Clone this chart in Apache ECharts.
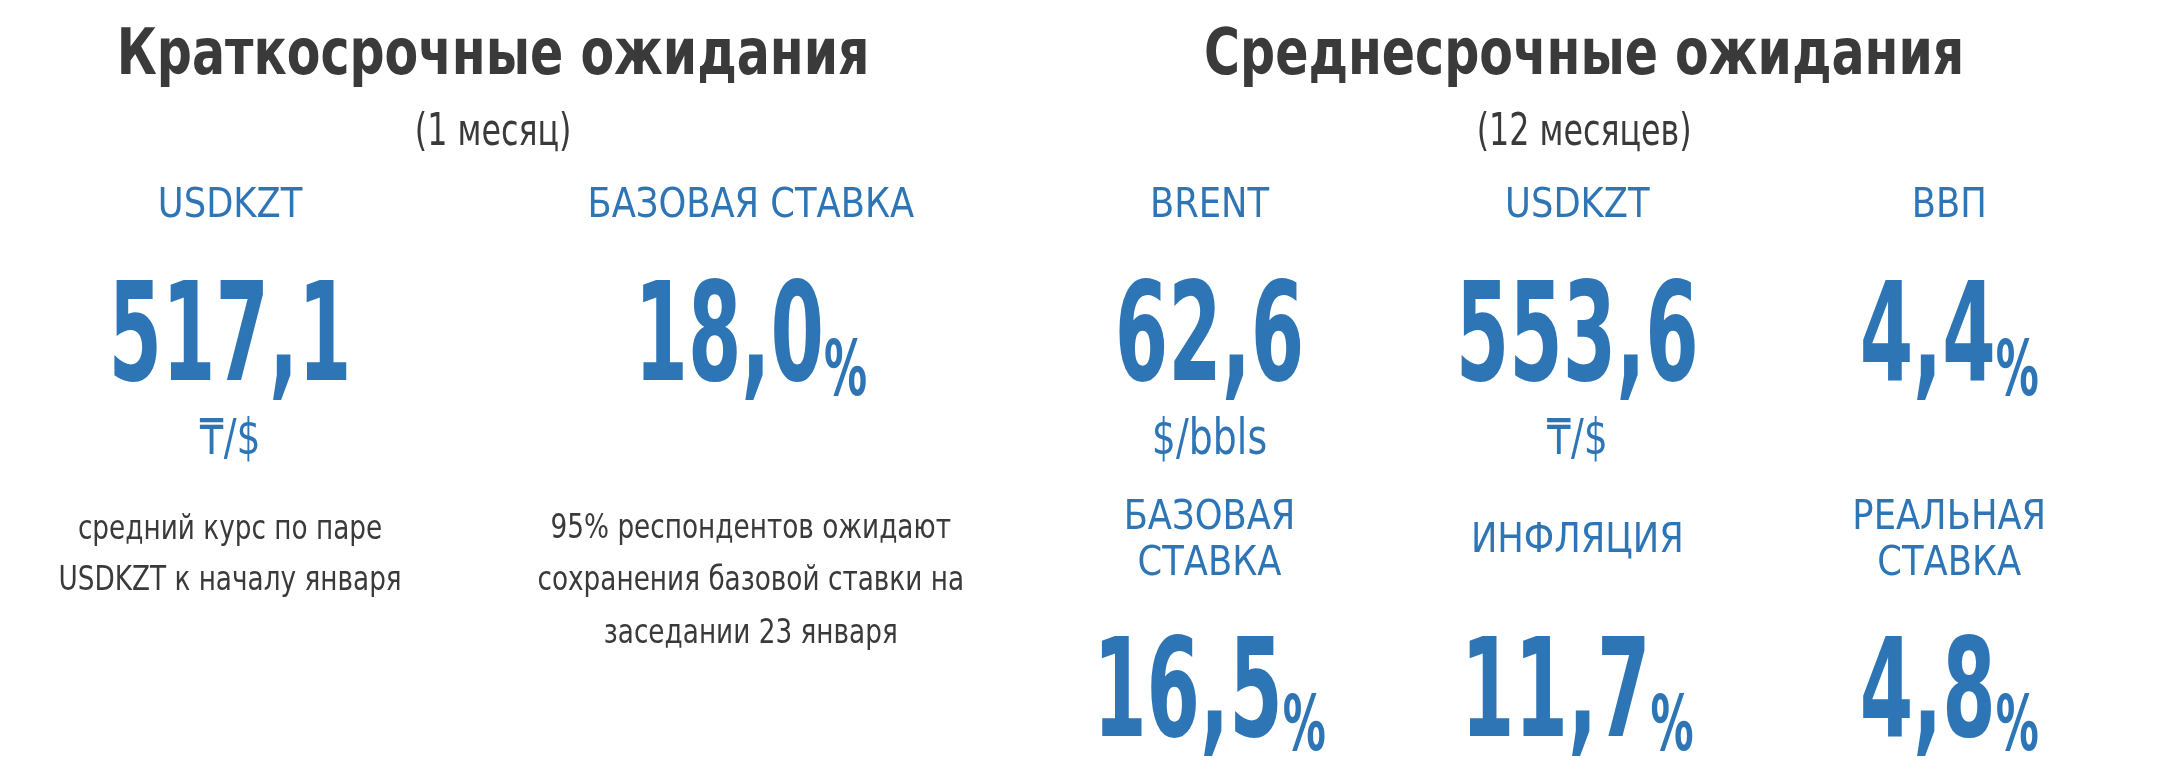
<!DOCTYPE html>
<html><head><meta charset="utf-8">
<script src="https://cdn.jsdelivr.net/npm/echarts@6/dist/echarts.min.js"></script>
<style>html,body{margin:0;padding:0;background:#fff}#c{width:2160px;height:774px}</style>
</head><body><div id="c"></div>
<script>
const titles = ["Краткосрочные ожидания", "Среднесрочные ожидания"];
const subtitles = ["(1 месяц)", "(12 месяцев)"];
const labels = ["USDKZT", "БАЗОВАЯ СТАВКА", "BRENT", "USDKZT", "ВВП", "БАЗОВАЯ\nСТАВКА", "ИНФЛЯЦИЯ", "РЕАЛЬНАЯ\nСТАВКА"];
const values = ["517,1", "18,0", "62,6", "553,6", "4,4", "16,5", "11,7", "4,8"];
const suffixes = ["", "%", "", "", "%", "%", "%", "%"];
const units = ["₸/$", "", "$/bbls", "₸/$", "", "", "", ""];
const notes = ["средний курс по паре\nUSDKZT к началу января", "95% респондентов ожидают\nсохранения базовой ставки на\nзаседании 23 января"];

const S = 2160/1568;
const F = '"DejaVu Sans Condensed","DejaVu Sans",sans-serif';
const BLUE = '#2e75b6', DARK = '#3a3a3a';
const colX = [167, 545, 878, 1145, 1415, 878, 1145, 1415];
const labY = [150, 150, 150, 150, 150, 393, 393, 393];
const valY = [250, 250, 250, 250, 250, 508, 508, 508];
const g = [];
function t(x, y, text, size, color, weight, lh, sx) {
  g.push({type:'text', x:x*S, y:y*S, scaleX: sx || 1, style:{text, fill:color,
    fontFamily:F, fontSize:size*S, fontWeight:weight, align:'center', verticalAlign:'middle',
    lineHeight: lh ? lh*S : undefined}});
}
t(358, 42, titles[0], 46, DARK, 'bold', null, 0.86);
t(1150, 42, titles[1], 46, DARK, 'bold', null, 0.86);
t(358, 97, subtitles[0], 32, DARK, 'normal', null, 0.8);
t(1150, 97, subtitles[1], 32, DARK, 'normal', null, 0.8);
labels.forEach((l, i) => t(colX[i], labY[i], l, 30, BLUE, 'normal', 33, 0.95));
values.forEach((v, i) => {
  g.push({type:'text', x:colX[i]*S, y:valY[i]*S, scaleX:0.62, style:{
    text: `{v|${v}}{p|${suffixes[i]}}`, align:'center', verticalAlign:'middle',
    rich:{v:{fontFamily:F, fontSize:100*S, fontWeight:'bold', fill:BLUE, verticalAlign:'bottom'},
          p:{fontFamily:F, fontSize:56*S, fontWeight:'bold', fill:BLUE, verticalAlign:'bottom'}}}});
});
units.forEach((u, i) => { if (u) t(colX[i], 320, u, 36, BLUE, 'normal', null, 0.85); });
t(167, 403, notes[0], 25, DARK, 'normal', 37, 0.85);
t(545, 422, notes[1], 25, DARK, 'normal', 38, 0.85);
const chart = echarts.init(document.getElementById('c'));
chart.setOption({graphic: g});
</script></body></html>
